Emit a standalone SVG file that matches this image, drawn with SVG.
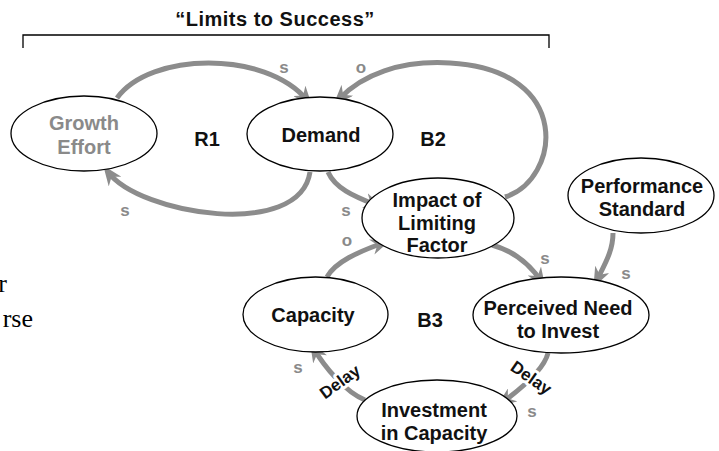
<svg xmlns="http://www.w3.org/2000/svg" width="719" height="451" viewBox="0 0 719 451">
<style>
.node{fill:#fff;stroke:#000;stroke-width:1.3}
.lbl{font-family:"Liberation Sans",Arial,sans-serif;font-weight:bold;font-size:20px;fill:#111;text-anchor:middle}
.gray{fill:#8a8a8a}
.pol{font-family:"Liberation Sans",Arial,sans-serif;font-weight:bold;font-size:17px;fill:#8a8a8a;text-anchor:middle;dominant-baseline:central}
.delay{font-family:"Liberation Sans",Arial,sans-serif;font-weight:bold;font-size:17px;fill:#111;text-anchor:middle;dominant-baseline:central;stroke:#fff;stroke-width:6;paint-order:stroke;stroke-linejoin:round}
.link{fill:none;stroke:#8c8c8c;stroke-width:5;marker-end:url(#arr)}
.serif{font-family:"Liberation Serif","Times New Roman",serif;font-size:26px;fill:#000;text-anchor:end}
</style>
<defs>
<marker id="arr" markerUnits="userSpaceOnUse" viewBox="0 0 20 16" refX="12" refY="8" markerWidth="20" markerHeight="16" orient="auto">
<path d="M0,0 L20,8 L0,16 L6,8 Z" fill="#8c8c8c"/>
</marker>
</defs>

<text class="lbl" x="275" y="26" style="letter-spacing:0.5px">“Limits to Success”</text>
<path d="M23,48 V35 H549 V48" fill="none" stroke="#000" stroke-width="1.3"/>

<text class="serif" x="7" y="292">r</text>
<text class="serif" x="33" y="327">rse</text>

<g id="connectors">
<path class="link" d="M117,98 C150,52 265,50 307,100"/>
<path class="link" d="M310,172 C300,240 140,215 108,172"/>
<path class="link" d="M328,172 C335,188 353,196 376,205"/>
<path class="link" d="M505,197 C560,180 575,70 450,63 C400,60 362,75 339,99"/>
<path class="link" d="M327,277 C335,262 358,252 383,243"/>
<path class="link" d="M492,245 C510,250 527,260 541,281"/>
<path class="link" d="M613,233 C613,250 606,262 597,280"/>
<path class="link" d="M548,353 C545,366 530,382 503,402"/>
<path class="link" d="M365,400 C345,392 324,366 314,349"/>
<text class="pol" x="284" y="67">s</text>
<text class="pol" x="361" y="67">o</text>
<text class="pol" x="125" y="210">s</text>
<text class="pol" x="346" y="210">s</text>
<text class="pol" x="347" y="240">o</text>
<text class="pol" x="545" y="258">s</text>
<text class="pol" x="626" y="273">s</text>
<text class="pol" x="532" y="411">s</text>
<text class="pol" x="298" y="367">s</text>
<text class="delay" transform="translate(531,378) rotate(35)">Delay</text>
<text class="delay" transform="translate(340,382) rotate(-36)">Delay</text>
</g>

<g id="growth-effort">
<ellipse class="node" cx="84" cy="133.5" rx="73" ry="37.5"/>
<text class="lbl gray" x="84" y="130">Growth</text>
<text class="lbl gray" x="84" y="154">Effort</text>
</g>

<g id="demand">
<ellipse class="node" cx="320" cy="134" rx="73" ry="37"/>
<text class="lbl" x="321" y="142">Demand</text>
</g>

<text class="lbl" x="207" y="146">R1</text>
<text class="lbl" x="433" y="146">B2</text>
<text class="lbl" x="430" y="327">B3</text>

<g id="impact">
<ellipse class="node" cx="438" cy="218" rx="76" ry="40"/>
<text class="lbl" x="437" y="207">Impact of</text>
<text class="lbl" x="437" y="230">Limiting</text>
<text class="lbl" x="437" y="252">Factor</text>
</g>

<g id="performance-standard">
<ellipse class="node" cx="641" cy="195.5" rx="73" ry="37.5"/>
<text class="lbl" x="642" y="193">Performance</text>
<text class="lbl" x="642" y="216">Standard</text>
</g>

<g id="perceived-need">
<ellipse class="node" cx="561" cy="315" rx="88" ry="38"/>
<text class="lbl" x="558" y="315">Perceived Need</text>
<text class="lbl" x="558" y="338">to Invest</text>
</g>

<g id="capacity">
<ellipse class="node" cx="315.5" cy="314.5" rx="72.5" ry="37.5"/>
<text class="lbl" x="313" y="322">Capacity</text>
</g>

<g id="investment">
<ellipse class="node" cx="437" cy="416" rx="80" ry="36"/>
<text class="lbl" x="434" y="417">Investment</text>
<text class="lbl" x="434" y="440">in Capacity</text>
</g>
</svg>
